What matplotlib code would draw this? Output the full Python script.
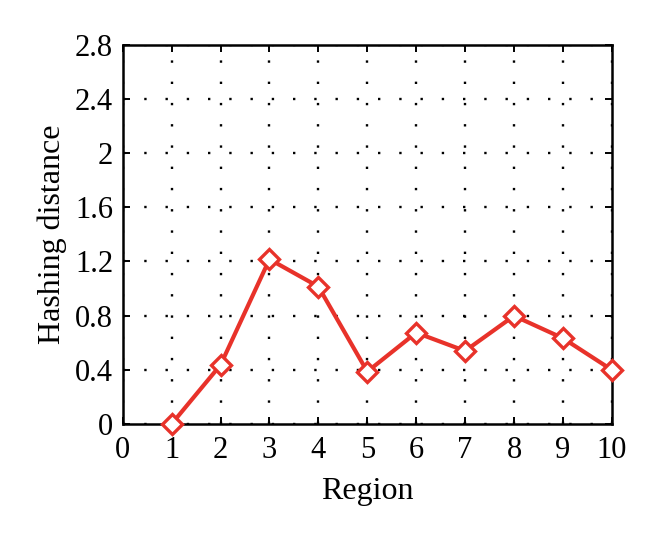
import matplotlib
matplotlib.use('Agg')
import matplotlib.pyplot as plt

plt.rcParams['font.family'] = ['Liberation Serif', 'DejaVu Serif']

# 数据
region = [1, 2, 3, 4, 5, 6, 7, 8, 9, 10]
hashing_distance = [0.0, 0.436, 1.216, 1.014, 0.386, 0.674, 0.539, 0.798, 0.633, 0.399]
x_ticks = list(range(0, 11))
y_ticks = [0, 0.4, 0.8, 1.2, 1.6, 2, 2.4, 2.8]
y_tick_labels = ['0', '0.4', '0.8', '1.2', '1.6', '2', '2.4', '2.8']

fig = plt.figure(figsize=(6.6, 5.4), dpi=100)
ax = fig.add_axes([0.186, 0.215, 0.741, 0.702])

ax.plot(region, hashing_distance, color='#e8322a', linewidth=3.0,
        marker='D', markersize=10.5, markerfacecolor='white',
        markeredgecolor='#e8322a', markeredgewidth=2.4, zorder=3, clip_on=False)

ax.set_xlim(0, 10)
ax.set_ylim(0, 2.8)
ax.set_xticks(x_ticks)
ax.set_yticks(y_ticks)
ax.set_yticklabels(y_tick_labels)

# 点状网格
ax.grid(True, color='black', linestyle=(0, (1, 8)), linewidth=1.7)

ax.tick_params(direction='in', length=5, width=1.4, labelsize=22,
               top=True, right=True)
ax.tick_params(axis='x', pad=9)
ax.tick_params(axis='y', pad=7)
for s in ax.spines.values():
    s.set_linewidth(1.8)

ax.set_xlabel('Region', fontsize=23, labelpad=8)
ax.set_ylabel('Hashing distance', fontsize=23, labelpad=6)

plt.savefig('out.png', dpi=100)
